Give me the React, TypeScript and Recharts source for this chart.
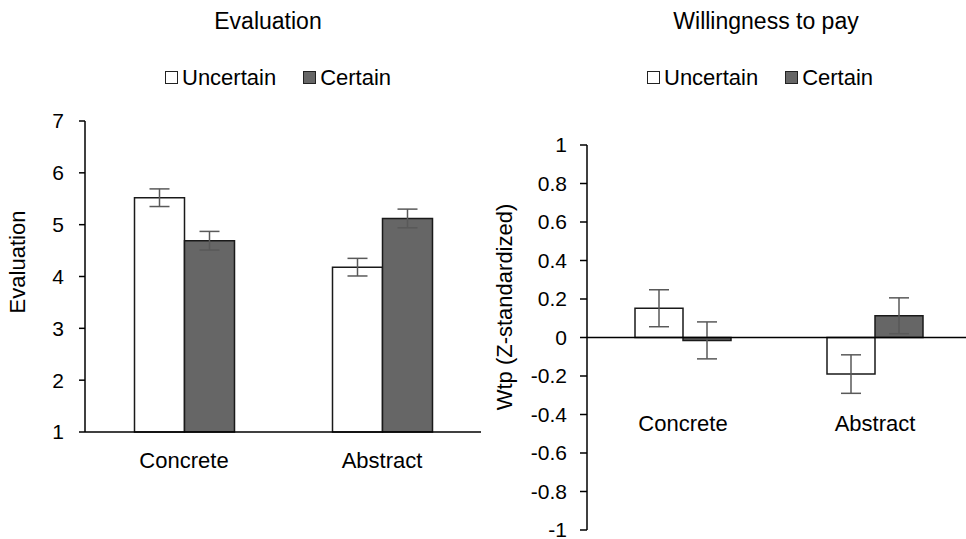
import React from "react";
import { BarChart, Bar, XAxis, YAxis, ErrorBar, ReferenceLine, Legend } from "recharts";

const categories = ["Concrete", "Abstract"];
const seriesNames = ["Uncertain", "Certain"];

// Evaluation panel
const evalUncertain = [5.52, 4.18];
const evalCertain = [4.69, 5.12];
const evalUncertainErr = [0.17, 0.17];
const evalCertainErr = [0.18, 0.18];
const evalTicks = [1, 2, 3, 4, 5, 6, 7];

// Willingness to pay panel
const wtpUncertain = [0.152, -0.19];
const wtpCertain = [-0.015, 0.113];
const wtpUncertainErr = [0.096, 0.1];
const wtpCertainErr = [0.096, 0.093];
const wtpTicks = [-1, -0.8, -0.6, -0.4, -0.2, 0, 0.2, 0.4, 0.6, 0.8, 1];

const evalData = categories.map((name, i) => ({
  name,
  uncertain: evalUncertain[i],
  certain: evalCertain[i],
  uErr: evalUncertainErr[i],
  cErr: evalCertainErr[i],
}));

const wtpData = categories.map((name, i) => ({
  name,
  uncertain: wtpUncertain[i],
  certain: wtpCertain[i],
  uErr: wtpUncertainErr[i],
  cErr: wtpCertainErr[i],
}));

const FONT = '"Liberation Sans", Arial, sans-serif';
const GRAY = "#666666";
const EDGE = "#1a1a1a";
const ERR = "#595959";

function SeriesLegend({ payload }: any) {
  const items = [...(payload || [])].sort(
    (a: any, b: any) => seriesNames.indexOf(a.value) - seriesNames.indexOf(b.value)
  );
  return (
    <div style={{ display: "flex", alignItems: "center", fontSize: 22, lineHeight: "25px", color: "#000", whiteSpace: "nowrap", fontFamily: FONT }}>
      {items.map((p: any, i: number) => (
        <span key={p.value} style={{ display: "flex", alignItems: "center", marginRight: i === 0 ? 27 : 0 }}>
          <span style={{ width: 11, height: 11, border: "1px solid #222", background: p.color, marginRight: 4 }} />
          {p.value}
        </span>
      ))}
    </div>
  );
}

const titleStyle: React.CSSProperties = {
  position: "absolute",
  top: 7,
  width: 300,
  textAlign: "center",
  fontSize: 23,
  lineHeight: "28px",
  color: "#000",
};

const axisLabelStyle: React.CSSProperties = {
  position: "absolute",
  width: 300,
  textAlign: "center",
  fontSize: 22,
  lineHeight: "26px",
  color: "#000",
  transform: "rotate(-90deg)",
  whiteSpace: "nowrap",
};

export default function App() {
  return (
    <div style={{ position: "absolute", left: 0, top: 0, width: 966, height: 539, overflow: "hidden", background: "#fff", fontFamily: FONT }}>
      <div style={{ ...titleStyle, left: 118 }}>Evaluation</div>
      <div style={{ ...titleStyle, left: 616 }}>Willingness to pay</div>
      <div style={{ ...axisLabelStyle, left: 18 - 150, top: 262 - 13 }}>Evaluation</div>
      <div style={{ ...axisLabelStyle, left: 505 - 150, top: 307 - 13 }}>Wtp (Z-standardized)</div>

      <div style={{ position: "absolute", left: 0, top: 0 }}>
        <BarChart width={500} height={539} data={evalData} margin={{ top: 121, right: 19, bottom: 77, left: 25 }} barCategoryGap="25%" barGap={0}>
          <XAxis dataKey="name" height={30} stroke="#000" strokeWidth={1.5} tickLine={false} tickSize={0} tickMargin={20} tick={{ fill: "#000", fontSize: 22 }} />
          <YAxis type="number" width={60} domain={[1, 7]} ticks={evalTicks} interval={0} stroke="#000" strokeWidth={1.5} tickSize={6} tickMargin={15} tick={{ fill: "#000", fontSize: 21 }} />
          <Legend verticalAlign="middle" align="center" content={<SeriesLegend />} wrapperStyle={{ left: 165, top: 65, width: "auto" }} />
          <Bar dataKey="uncertain" name="Uncertain" fill="#ffffff" stroke={EDGE} strokeWidth={1.5} isAnimationActive={false}>
            <ErrorBar dataKey="uErr" width={10} stroke={ERR} strokeWidth={1.5} />
          </Bar>
          <Bar dataKey="certain" name="Certain" fill={GRAY} stroke={EDGE} strokeWidth={1.5} isAnimationActive={false}>
            <ErrorBar dataKey="cErr" width={10} stroke={ERR} strokeWidth={1.5} />
          </Bar>
        </BarChart>
      </div>

      <div style={{ position: "absolute", left: 480, top: 0 }}>
        <BarChart width={500} height={580} data={wtpData} margin={{ top: 145, right: 9, bottom: 20, left: 37 }} barCategoryGap="25%" barGap={0}>
          <XAxis dataKey="name" height={30} axisLine={false} tickLine={false} tickSize={0} tickMargin={-115} tick={{ fill: "#000", fontSize: 22 }} />
          <YAxis type="number" width={70} domain={[-1, 1]} ticks={wtpTicks} interval={0} stroke="#000" strokeWidth={1.5} tickSize={7} tickMargin={13} tick={{ fill: "#000", fontSize: 21 }} />
          <Legend verticalAlign="middle" align="center" content={<SeriesLegend />} wrapperStyle={{ left: 167, top: 65, width: "auto" }} />
          <Bar dataKey="uncertain" name="Uncertain" fill="#ffffff" stroke={EDGE} strokeWidth={1.5} isAnimationActive={false}>
            <ErrorBar dataKey="uErr" width={10} stroke={ERR} strokeWidth={1.5} />
          </Bar>
          <Bar dataKey="certain" name="Certain" fill={GRAY} stroke={EDGE} strokeWidth={1.5} isAnimationActive={false}>
            <ErrorBar dataKey="cErr" width={10} stroke={ERR} strokeWidth={1.5} />
          </Bar>
          <ReferenceLine y={0} stroke="#000" strokeWidth={1.5} />
        </BarChart>
      </div>
    </div>
  );
}
